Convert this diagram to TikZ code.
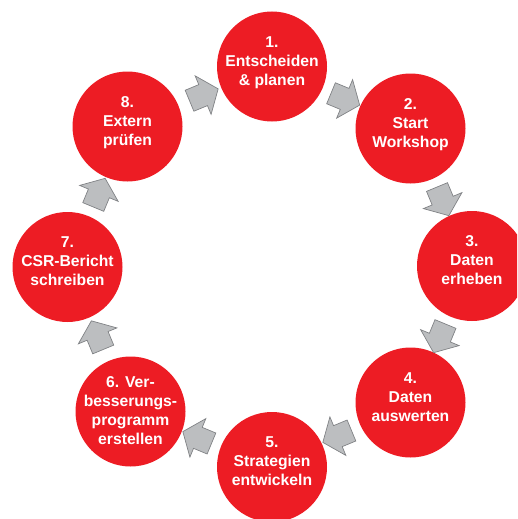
\documentclass[tikz,border=0pt]{standalone}
\usepackage{fontspec}
\setmainfont{Liberation Sans}
\usetikzlibrary{shapes.arrows,calc}
\definecolor{stepred}{HTML}{ED1C24}
\definecolor{arrfill}{HTML}{BCBEC0}
\definecolor{arrline}{HTML}{808285}
\tikzset{
  stepcircle/.style={circle, fill=stepred, draw=none, minimum size=110pt, inner sep=0pt},
  steptext/.style={text=white, font=\bfseries\fontsize{15.7}{19}\selectfont, align=center, inner sep=0pt, anchor=north},
  blockarrow/.style={single arrow, fill=arrfill, draw=arrline, line width=0.7pt,
    minimum height=31pt, inner xsep=0pt, inner ysep=11pt,
    single arrow head extend=9.5pt, single arrow tip angle=104}
}
\begin{document}
\begin{tikzpicture}[x=1pt,y=-1pt]
\useasboundingbox (0,0) rectangle (517,519);
\clip (0,0) rectangle (517,519);
\node[stepcircle] (c1) at (272,66.5) {};
\node[stepcircle] (c2) at (410.5,128.5) {};
\node[stepcircle] (c3) at (472,266) {};
\node[stepcircle] (c4) at (410.5,402.5) {};
\node[stepcircle] (c5) at (272,467) {};
\node[stepcircle] (c6) at (130.5,411.5) {};
\node[stepcircle] (c7) at (67.5,267) {};
\node[stepcircle] (c8) at (127.5,126.5) {};
\node[steptext] (t1) at ([yshift=30.4pt]c1.center) {1.\\Entscheiden\\\& planen};
\node[steptext] (t2) at ([yshift=30.4pt]c2.center) {2.\\Start\\Workshop};
\node[steptext] (t3) at ([yshift=30.4pt]c3.center) {3.\\Daten\\erheben};
\node[steptext] (t4) at ([yshift=30.4pt]c4.center) {4.\\Daten\\auswerten};
\node[steptext] (t5) at ([yshift=30.4pt]c5.center) {5.\\Strategien\\entwickeln};
\node[steptext] (t6) at ([yshift=35.6pt]c6.center) {6. Ver-\\besserungs-\\programm\\erstellen};
\node[steptext] (t7) at ([yshift=30.4pt]c7.center) {7.\\CSR-Bericht\\schreiben};
\node[steptext] (t8) at ([yshift=30.4pt]c8.center) {8.\\Extern\\prüfen};
\node[blockarrow, rotate=-22.5] (a12) at ($(c1.center)!0.5!(c2.center)$) {};
\node[blockarrow, rotate=-67.5] (a23) at ($(c2.center)!0.5!(c3.center)$) {};
\node[blockarrow, rotate=-112.5] (a34) at ($(c3.center)!0.5!(c4.center)$) {};
\node[blockarrow, rotate=-157.5] (a45) at ($(c4.center)!0.5!(c5.center)$) {};
\node[blockarrow, rotate=157.5] (a56) at ($(c5.center)!0.5!(c6.center)$) {};
\node[blockarrow, rotate=112.5] (a67) at ($(c6.center)!0.5!(c7.center)$) {};
\node[blockarrow, rotate=67.5] (a78) at ($(c7.center)!0.5!(c8.center)$) {};
\node[blockarrow, rotate=22.5] (a81) at ($(c8.center)!0.5!(c1.center)$) {};
\end{tikzpicture}
\end{document}
